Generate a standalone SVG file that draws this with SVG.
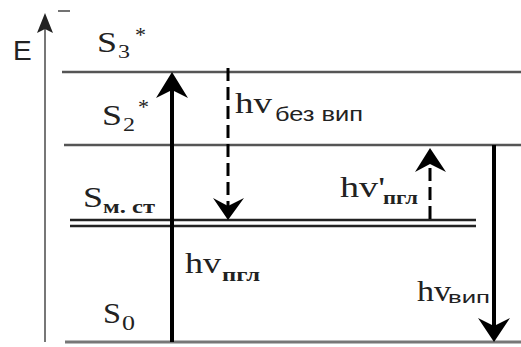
<svg xmlns="http://www.w3.org/2000/svg" width="521" height="347" viewBox="0 0 521 347">
  <style>
    .lvl { stroke: #555; stroke-width: 2.5; fill: none; }
    .dbl { stroke: #222; stroke-width: 2.5; fill: none; }
    .solid { stroke: #000; stroke-width: 4; fill: none; }
    .dash { stroke: #000; stroke-width: 3; fill: none; stroke-dasharray: 13 6; }
    .head { fill: #000; }
    .serif { font-family: "Liberation Serif", "Times New Roman", serif; fill: #222; }
    .sans { font-family: "Liberation Sans", Arial, sans-serif; fill: #222; }
    .big { font-size: 29px; }
    .hv { font-size: 30px; }
    .sub { font-size: 19px; }
    .star { font-size: 22px; }
    .bsub { font-size: 19px; font-weight: bold; }
  </style>
  <rect width="521" height="347" fill="#fff"/>

  <!-- energy axis -->
  <g id="axis">
    <line x1="45" y1="28" x2="45" y2="342" stroke="#777" stroke-width="2"/>
    <polygon points="45,13 53,33 45,29 37,33" fill="#222"/>
    <line x1="58" y1="11" x2="70" y2="11" stroke="#444" stroke-width="1.5"/>
    <text class="sans" x="13" y="60" font-size="28">E</text>
  </g>

  <!-- energy levels -->
  <g id="level-S3">
    <line class="lvl" x1="62" y1="72" x2="521" y2="72"/>
    <text class="serif big" x="97" y="52" textLength="20" lengthAdjust="spacingAndGlyphs">S</text>
    <text class="serif sub" x="118" y="58" textLength="12" lengthAdjust="spacingAndGlyphs">3</text>
    <text class="serif star" x="135" y="42">*</text>
  </g>
  <g id="level-S2">
    <line class="lvl" x1="64" y1="145" x2="521" y2="145"/>
    <text class="serif big" x="102" y="125" textLength="20" lengthAdjust="spacingAndGlyphs">S</text>
    <text class="serif sub" x="123" y="131" textLength="12" lengthAdjust="spacingAndGlyphs">2</text>
    <text class="serif star" x="138" y="114">*</text>
  </g>
  <g id="level-Sm">
    <line class="dbl" x1="70" y1="220" x2="476" y2="220"/>
    <line class="dbl" x1="70" y1="226" x2="476" y2="226"/>
    <text class="serif big" x="83" y="207" textLength="20" lengthAdjust="spacingAndGlyphs">S</text>
    <text class="serif bsub" x="103" y="213" font-size="17" textLength="52" lengthAdjust="spacingAndGlyphs">м. ст</text>
  </g>
  <g id="level-S0">
    <line x1="65" y1="342" x2="521" y2="342" stroke="#777" stroke-width="3"/>
    <text class="serif big" x="103" y="323" textLength="18" lengthAdjust="spacingAndGlyphs">S</text>
    <text class="serif" x="122" y="330" font-size="22" textLength="13" lengthAdjust="spacingAndGlyphs">0</text>
  </g>

  <!-- transitions -->
  <g id="connectors">
    <line class="solid" x1="172" y1="342" x2="172" y2="88"/>
    <polygon class="head" points="172,72 188,98 172,90 156,98"/>

    <line class="dash" x1="228" y1="68" x2="228" y2="206"/>
    <polygon class="head" points="228,220 213,198 228,206 244,198"/>

    <line class="dash" x1="430" y1="219" x2="430" y2="162"/>
    <polygon class="head" points="430,148 446,172 430,164 415,172"/>

    <line class="solid" x1="494" y1="145" x2="494" y2="330"/>
    <polygon class="head" points="494,342 478,318 494,326 510,318"/>
  </g>

  <!-- transition labels -->
  <g id="label-bez-vyp">
    <text class="serif hv" x="235" y="113" textLength="37" lengthAdjust="spacingAndGlyphs">hv</text>
    <text class="sans" x="275" y="121" font-size="21" textLength="88" lengthAdjust="spacingAndGlyphs">без вип</text>
  </g>
  <g id="label-pgl-prime">
    <text class="serif hv" x="340" y="197" textLength="45" lengthAdjust="spacingAndGlyphs">hv'</text>
    <text class="serif bsub" x="383" y="204" textLength="35" lengthAdjust="spacingAndGlyphs">пгл</text>
  </g>
  <g id="label-pgl">
    <text class="serif hv" x="185" y="273" textLength="36" lengthAdjust="spacingAndGlyphs">hv</text>
    <text class="serif bsub" x="222" y="281" textLength="38" lengthAdjust="spacingAndGlyphs">пгл</text>
  </g>
  <g id="label-vyp">
    <text class="serif hv" x="417" y="301" textLength="34" lengthAdjust="spacingAndGlyphs">hv</text>
    <text class="sans" x="448" y="303" font-size="17" textLength="42" lengthAdjust="spacingAndGlyphs">вип</text>
  </g>
</svg>
